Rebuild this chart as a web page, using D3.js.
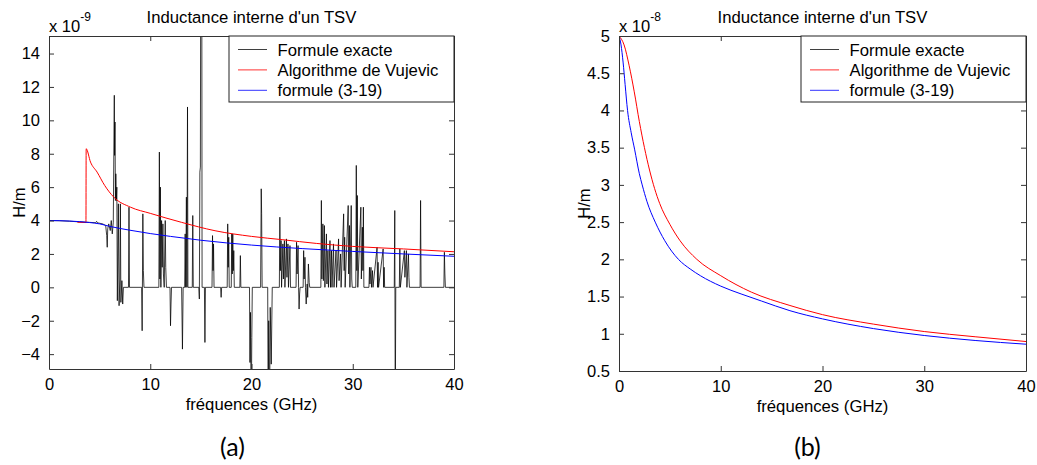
<!DOCTYPE html>
<html><head><meta charset="utf-8">
<script src="https://cdn.jsdelivr.net/npm/d3@7"></script>
<style>body{margin:0;background:#fff}</style>
</head><body><svg id="c" width="1037" height="465"></svg>
<script>
// ---------- DATA ----------
const titleText = "Inductance interne d'un TSV";
const xLabelText = "fréquences (GHz)";
const yLabelText = "H/m";
const seriesNames = ["Formule exacte", "Algorithme de Vujevic", "formule (3-19)"];
const seriesColors = ["#000000", "#ff0000", "#0000ff"];

const xTicks = [0, 10, 20, 30, 40];
const yTicksA = [-4, -2, 0, 2, 4, 6, 8, 10, 12, 14];
const yTicksB = [0.5, 1, 1.5, 2, 2.5, 3, 3.5, 4, 4.5, 5];

// (a) units of 1e-9 H/m, [GHz, value]
const exactA = [[0,4.0],[1,3.99],[2,3.96],[3,3.92],[4,3.89],[4.6,3.87],[4.7,3.95],[4.8,3.86],[5.3,3.8],[5.6,3.7],[5.7,3.1],[5.75,2.4],[5.8,3.5],[5.9,3.8],[6.05,3.4],[6.15,4.0],[6.25,3.2],[6.35,3.9],[6.45,11.5],[6.48,7.9],[6.52,9.9],[6.56,5.2],[6.6,6.8],[6.65,5.2],[6.7,6.0],[6.75,-0.8],[6.85,5.0],[6.92,-1.1],[7.0,0.5],[7.05,5.0],[7.1,-0.9],[7.2,0.4],[7.28,-1.0],[7.35,0],[7.85,0],[7.9,4.8],[7.95,0],[9.15,0],[9.2,-2.6],[9.27,4.4],[9.32,1.0],[9.38,0],
[10.85,0],[10.9,8.1],[10.95,0.5],[11.0,6.0],[11.05,0],[11.12,4.0],[11.18,1.2],[11.25,3.8],[11.3,0.8],[11.38,0],[11.48,4.0],[11.53,1.2],[11.6,0],[11.95,0],[12.0,-2.3],[12.05,-1.0],[12.1,0],[13.1,0],[13.18,-3.7],[13.25,0],[13.4,0],[13.45,3.2],[13.5,0],[13.57,5.4],[13.62,0],[13.68,10.8],[13.72,0],[14.15,0],[14.2,4.3],[14.25,0],[14.8,0],[14.85,-0.7],[14.9,6.9],[14.95,7.2],[15.0,25],[15.08,25],[15.12,0],[15.35,0],[15.4,-3.3],[15.45,0],[16.1,0],[16.15,3.1],[16.2,1.0],[16.25,2.6],[16.3,0],[16.95,0],[17.0,-0.6],[17.05,0],[17.6,0],[17.65,3.8],[17.7,1.2],[17.75,3.0],[17.8,0],[18.0,0],[18.05,3.2],[18.1,0.8],[18.15,3.2],[18.2,1.0],[18.25,2.2],[18.3,0],[18.85,0],[18.9,1.9],[18.95,0],[19.8,0],[19.85,-4.5],[19.9,-1.5],[19.97,-8],[20.03,-3],[20.08,0],
[20.9,0],[20.96,5.9],[21.0,4.4],[21.05,0],[21.6,0],[21.65,-8],[21.7,-2],[21.78,-8],[21.85,-1.2],[21.95,-4.6],[22.05,0],[22.75,0],[22.8,4.2],[22.85,1.0],[22.92,2.8],[22.97,0],[23.1,2.6],[23.15,0.5],[23.25,2.8],[23.3,0],[23.45,2.9],[23.5,0.6],[23.6,2.6],[23.65,0],[23.8,2.5],[23.85,0],[24.4,0],[24.45,2.7],[24.5,0.8],[24.6,2.5],[24.65,0],[24.7,-1.3],[24.75,-0.4],[24.8,0],[25.1,0],[25.15,2.2],[25.2,0.5],[25.28,1.8],[25.33,0],[25.4,-1.0],[25.5,0.2],[25.55,-0.6],[25.62,1.4],[25.7,0.3],[25.75,0],
[26.85,0],[26.9,5.2],[26.95,0.5],[27.05,3.8],[27.1,0.4],[27.2,3.7],[27.25,0],[27.4,3.2],[27.45,0.2],[27.55,2.2],[27.6,0],[27.75,2.8],[27.8,0],[27.9,2.2],[27.95,0],[28.1,2.6],[28.15,0],[28.35,2.2],[28.4,0],[28.6,2.9],[28.65,0.4],[28.8,2.0],[28.85,0],[29.1,4.4],[29.15,1.0],[29.2,3.0],[29.25,0],[29.55,4.9],[29.6,0.8],[29.68,3.7],[29.72,0],[29.85,4.9],[29.9,0.5],[29.95,0],[30.3,0],[30.35,7.3],[30.4,1.0],[30.45,5.5],[30.5,0],[30.8,4.8],[30.85,0.5],[30.95,3.6],[31.0,1.0],[31.05,4.8],[31.1,0],[31.6,0],[31.65,1.2],[31.7,0.2],[31.8,1.2],[31.85,0],[31.95,1.0],[32.0,0],[32.4,2.4],[32.45,0],[32.5,1.5],[32.55,0],[33.0,2.3],[33.05,0],[33.1,1.2],[33.15,0],[34.1,0],[34.15,4.6],[34.2,-8],[34.25,0],[34.6,0],[34.65,2.3],[34.7,0],[35.1,2.2],[35.15,0.6],[35.3,2.2],[35.35,0],[35.5,2.0],[35.55,0.6],[35.6,0],[36.65,0],[36.7,5.2],[36.75,0],[39.0,0],[39.05,2.1],[39.1,0.8],[39.15,0],[40,0]];

const vujevicA = [[2.8,3.9],[3.65,3.88],[3.67,8.3],[4.1,7.5],[4.75,6.9],[5.5,6.1],[6.4,5.4],[8.05,4.8],[10,4.43],[13.1,3.89],[16.4,3.39],[20,3.05],[23.1,2.85],[26.4,2.63],[30,2.45],[35,2.3],[40,2.13]];
const formulaA = [[0,4.0],[2,3.97],[4,3.88],[5,3.8],[6,3.65],[8,3.42],[10,3.22],[12,3.05],[15,2.82],[20,2.53],[25,2.32],[30,2.15],[35,2.0],[40,1.86]];

// (b) units of 1e-8 H/m
const vujevicB = [[0,5.0],[0.5,4.88],[1.0,4.6],[1.5,4.25],[2.0,3.85],[2.5,3.5],[3.0,3.2],[3.5,2.95],[4.0,2.75],[5,2.47],[6,2.25],[7.65,2.0],[10,1.78],[13,1.56],[16.8,1.38],[20,1.257],[25,1.13],[30,1.03],[35,0.96],[40,0.896]];
const formulaB = [[0,5.0],[0.2,4.88],[0.4,4.65],[0.6,4.35],[0.84,4.0],[1.2,3.7],[1.53,3.48],[2.0,3.15],[2.28,3.0],[2.74,2.78],[3.56,2.5],[4.5,2.25],[5.84,2.0],[7,1.87],[8,1.78],[10,1.64],[12,1.535],[14,1.44],[16.8,1.31],[20,1.2],[25,1.07],[30,0.977],[35,0.91],[40,0.86]];

// ---------- DRAW ----------
const svg = d3.select("#c");
const FONT = "'Liberation Sans', Arial, sans-serif";

function drawPanel(o) {
  const g = svg.append("g");
  const x = d3.scaleLinear().domain([0, 40]).range([o.x0, o.x1]);
  const y = d3.scaleLinear().domain(o.yDomain).range([o.y1, o.y0]);
  const clipId = "clip" + o.id;
  svg.append("clipPath").attr("id", clipId).append("rect")
    .attr("x", o.x0).attr("y", o.y0).attr("width", o.x1 - o.x0).attr("height", o.y1 - o.y0);

  // data lines
  o.series.forEach(s => {
    const line = d3.line().x(d => x(d[0])).y(d => y(d[1])).curve(s.curve || d3.curveLinear);
    g.append("path").attr("d", line(s.data)).attr("fill", "none")
      .attr("stroke", s.color).attr("stroke-width", s.width || 1).attr("stroke-opacity", s.opacity || 1)
      .attr("clip-path", `url(#${clipId})`);
  });

  const axisColor = "#333";
  const ax = (gen, tr) => g.append("g").attr("transform", tr).call(gen)
    .call(s => s.select(".domain").attr("stroke", axisColor))
    .call(s => s.selectAll(".tick line").attr("stroke", axisColor))
    .call(s => s.selectAll("text").attr("font-family", FONT).attr("font-size", 16.5).attr("fill", "#000"));
  ax(d3.axisBottom(x).tickValues(xTicks).tickSizeInner(-5).tickSizeOuter(0).tickPadding(9).tickFormat(d3.format("d")),
     `translate(0,${o.y1})`);
  ax(d3.axisTop(x).tickValues(xTicks).tickSizeInner(-5).tickSizeOuter(0).tickFormat(""), `translate(0,${o.y0})`);
  ax(d3.axisLeft(y).tickValues(o.yTicks).tickSizeInner(-5).tickSizeOuter(0).tickPadding(9).tickFormat(o.yFmt),
     `translate(${o.x0},0)`);
  ax(d3.axisRight(y).tickValues(o.yTicks).tickSizeInner(-5).tickSizeOuter(0).tickFormat(""), `translate(${o.x1},0)`);

  // title
  g.append("text").attr("x", (o.x0 + o.x1) / 2).attr("y", 23).attr("text-anchor", "middle")
    .attr("font-family", FONT).attr("font-size", 16.7).text(titleText);
  // exponent
  const ex = g.append("text").attr("x", o.x0).attr("y", 32).attr("font-family", FONT).attr("font-size", 16.5);
  ex.append("tspan").text("x 10");
  ex.append("tspan").attr("dy", -11).attr("font-size", 12).text(o.exp);
  // axis labels
  g.append("text").attr("x", (o.x0 + o.x1) / 2).attr("y", o.y1 + 41).attr("text-anchor", "middle")
    .attr("font-family", FONT).attr("font-size", 16.7).text(xLabelText);
  g.append("text").attr("transform", `translate(${o.x0 - o.ylabOff},${(o.y0 + o.y1) / 2}) rotate(-90)`)
    .attr("text-anchor", "middle").attr("font-family", FONT).attr("font-size", 16.5).text(yLabelText);

  // legend
  const lw = 225, lh = 66;
  const lg = g.append("g").attr("transform", `translate(${o.x1 - lw},${o.y0})`);
  lg.append("rect").attr("width", lw).attr("height", lh).attr("fill", "#fff").attr("stroke", "#222").attr("stroke-width", 1);
  seriesNames.forEach((n, i) => {
    const yy = 13.5 + i * 20.4;
    lg.append("line").attr("x1", 9).attr("x2", 38).attr("y1", yy).attr("y2", yy)
      .attr("stroke", seriesColors[i]).attr("stroke-width", 1).attr("opacity", i === 0 ? 0.75 : 0.8);
    lg.append("text").attr("x", 48.5).attr("y", yy + 6).attr("font-family", FONT).attr("font-size", 16.7).text(n);
  });

  // panel caption
  svg.append("text").attr("x", o.capX).attr("y", 456).attr("text-anchor", "middle")
    .attr("font-family", "Lato, 'Open Sans', sans-serif").attr("font-size", 25).text(o.caption);
}

drawPanel({
  id: "A", x0: 49, x1: 454, y0: 36, y1: 369, yDomain: [-4.89, 15.05], yTicks: yTicksA, ylabOff: 24,
  yFmt: d3.format("d"), exp: "-9", caption: "(a)", capX: 232.5,
  series: [
    { color: seriesColors[0], data: exactA, width: 0.9, opacity: 0.85 },
    { color: seriesColors[1], data: vujevicA, curve: d3.curveMonotoneX },
    { color: seriesColors[2], data: formulaA, curve: d3.curveMonotoneX }
  ]
});
drawPanel({
  id: "B", x0: 619, x1: 1026, y0: 36, y1: 371, yDomain: [0.5, 5], yTicks: yTicksB, ylabOff: 29,
  yFmt: d => String(d), exp: "-8", caption: "(b)", capX: 807.5,
  series: [
    { color: seriesColors[1], data: vujevicB, curve: d3.curveMonotoneX },
    { color: seriesColors[2], data: formulaB, curve: d3.curveMonotoneX }
  ]
});
</script></body></html>
